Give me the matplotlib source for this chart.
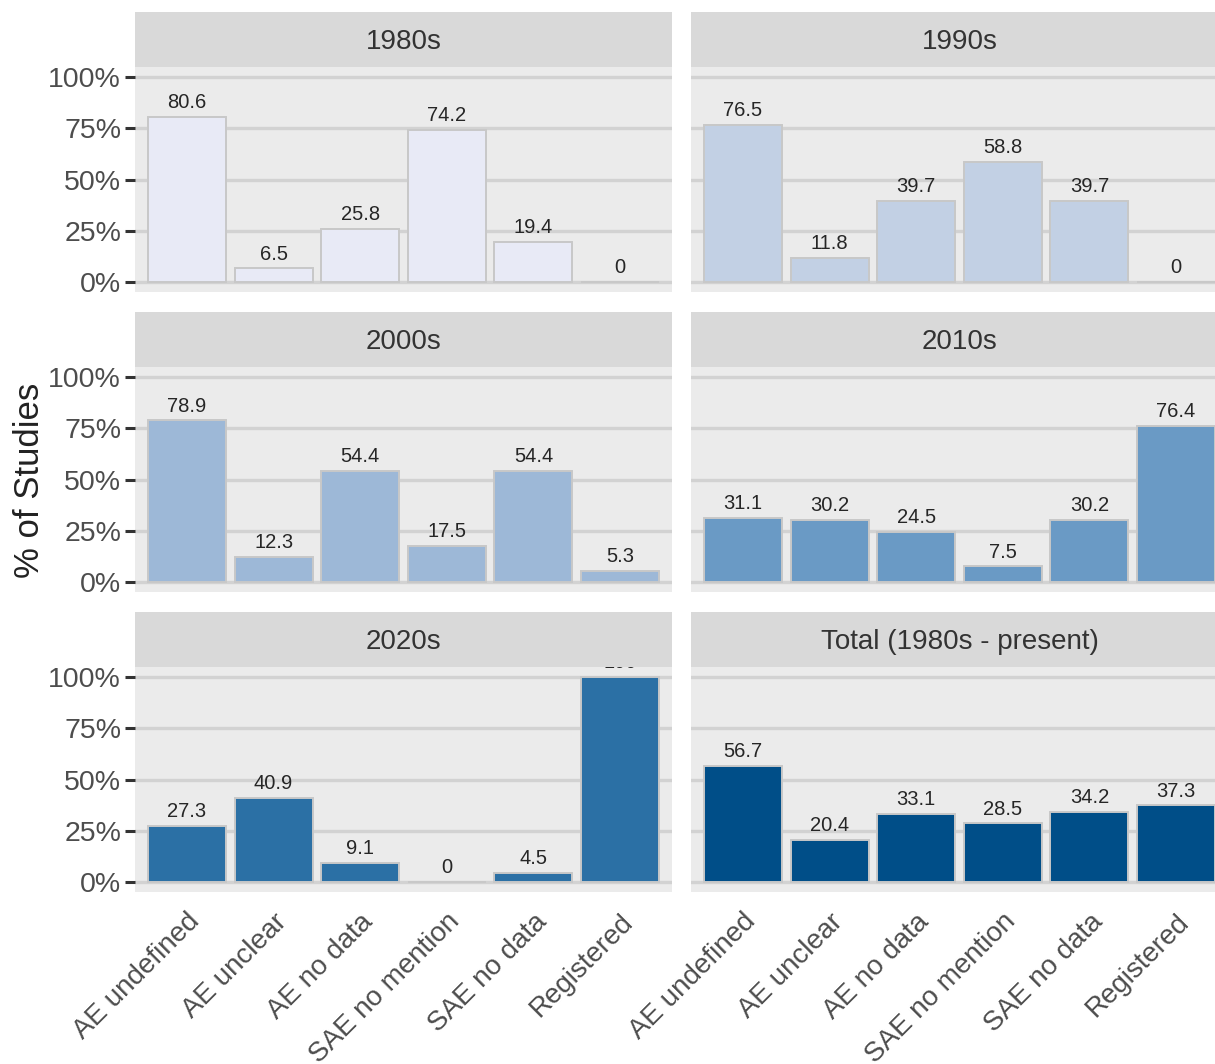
import matplotlib
matplotlib.use("Agg")
from matplotlib import pyplot as plt

plt.rcParams['font.family'] = ['Liberation Sans', 'DejaVu Sans']

categories = ['AE undefined', 'AE unclear', 'AE no data', 'SAE no mention', 'SAE no data', 'Registered']
panels = ['1980s', '1990s', '2000s', '2010s', '2020s', 'Total (1980s - present)']
vals_1980s = [80.6, 6.5, 25.8, 74.2, 19.4, 0]
vals_1990s = [76.5, 11.8, 39.7, 58.8, 39.7, 0]
vals_2000s = [78.9, 12.3, 54.4, 17.5, 54.4, 5.3]
vals_2010s = [31.1, 30.2, 24.5, 7.5, 30.2, 76.4]
vals_2020s = [27.3, 40.9, 9.1, 0, 4.5, 100]
vals_total = [56.7, 20.4, 33.1, 28.5, 34.2, 37.3]
all_vals = [vals_1980s, vals_1990s, vals_2000s, vals_2010s, vals_2020s, vals_total]
fills = ['#E8EAF6', '#C2D0E4', '#9DB8D7', '#6A9AC5', '#2B70A5', '#004E88']
y_ticks = [0, 25, 50, 75, 100]

W, H = 1215, 1064
fig = plt.figure(figsize=(W / 100, H / 100), dpi=100)
fig.patch.set_facecolor('white')

# panel layout in pixels (right column runs past the right edge, as in the source)
col_x = [135, 691]
panel_w = 537
row_y = [12, 312, 612]
strip_h = 55
panel_h = 225

for i, (name, vals) in enumerate(zip(panels, all_vals)):
    r, c = divmod(i, 2)
    x0 = col_x[c]
    top = row_y[r]
    # strip
    sax = fig.add_axes([x0 / W, 1 - (top + strip_h) / H, panel_w / W, strip_h / H])
    sax.set_facecolor('#D9D9D9')
    sax.set_xticks([])
    sax.set_yticks([])
    for s in sax.spines.values():
        s.set_visible(False)
    sax.text(0.5, 0.46, name, transform=sax.transAxes, ha='center', va='center',
             fontsize=20, color='#333333')
    # panel
    ax = fig.add_axes([x0 / W, 1 - (top + strip_h + panel_h) / H, panel_w / W, panel_h / H])
    ax.set_facecolor('#EBEBEB')
    for s in ax.spines.values():
        s.set_visible(False)
    ax.set_axisbelow(True)
    ax.grid(axis='y', color='#D2D2D2', linewidth=2.4)
    xs = list(range(len(categories)))
    ax.bar(xs, vals, width=0.9, color=fills[i], edgecolor='#C8C8C8', linewidth=1.4, zorder=2)
    for x, v in zip(xs, vals):
        lbl = ax.annotate(f'{v:g}', (x, v), xytext=(0, 3.5), textcoords='offset points',
                          ha='center', va='bottom', fontsize=14.5, color='#262626', zorder=3)
        lbl.set_clip_path(ax.patch)
        lbl.set_clip_on(True)
    ax.set_xlim(-0.6, 5.6)
    ax.set_ylim(-5, 105)
    ax.set_yticks(y_ticks)
    if c == 0:
        ax.set_yticklabels([f'{t}%' for t in y_ticks], fontsize=20.5, color='#4D4D4D')
        ax.tick_params(axis='y', length=7, width=2.2, color='#333333', pad=3)
    else:
        ax.set_yticklabels([])
        ax.tick_params(axis='y', length=0)
    ax.set_xticks(xs)
    if r == 2:
        ax.set_xticklabels(categories, rotation=45, ha='right', va='top',
                           rotation_mode='anchor', fontsize=20, color='#4D4D4D')
        ax.tick_params(axis='x', length=0, pad=12)
    else:
        ax.set_xticklabels([])
        ax.tick_params(axis='x', length=0)

fig.text(30 / W, 1 - 480 / H, '% of Studies', rotation=90, ha='center', va='center',
         fontsize=25, color='#222222')

fig.savefig('out.png', dpi=100)
